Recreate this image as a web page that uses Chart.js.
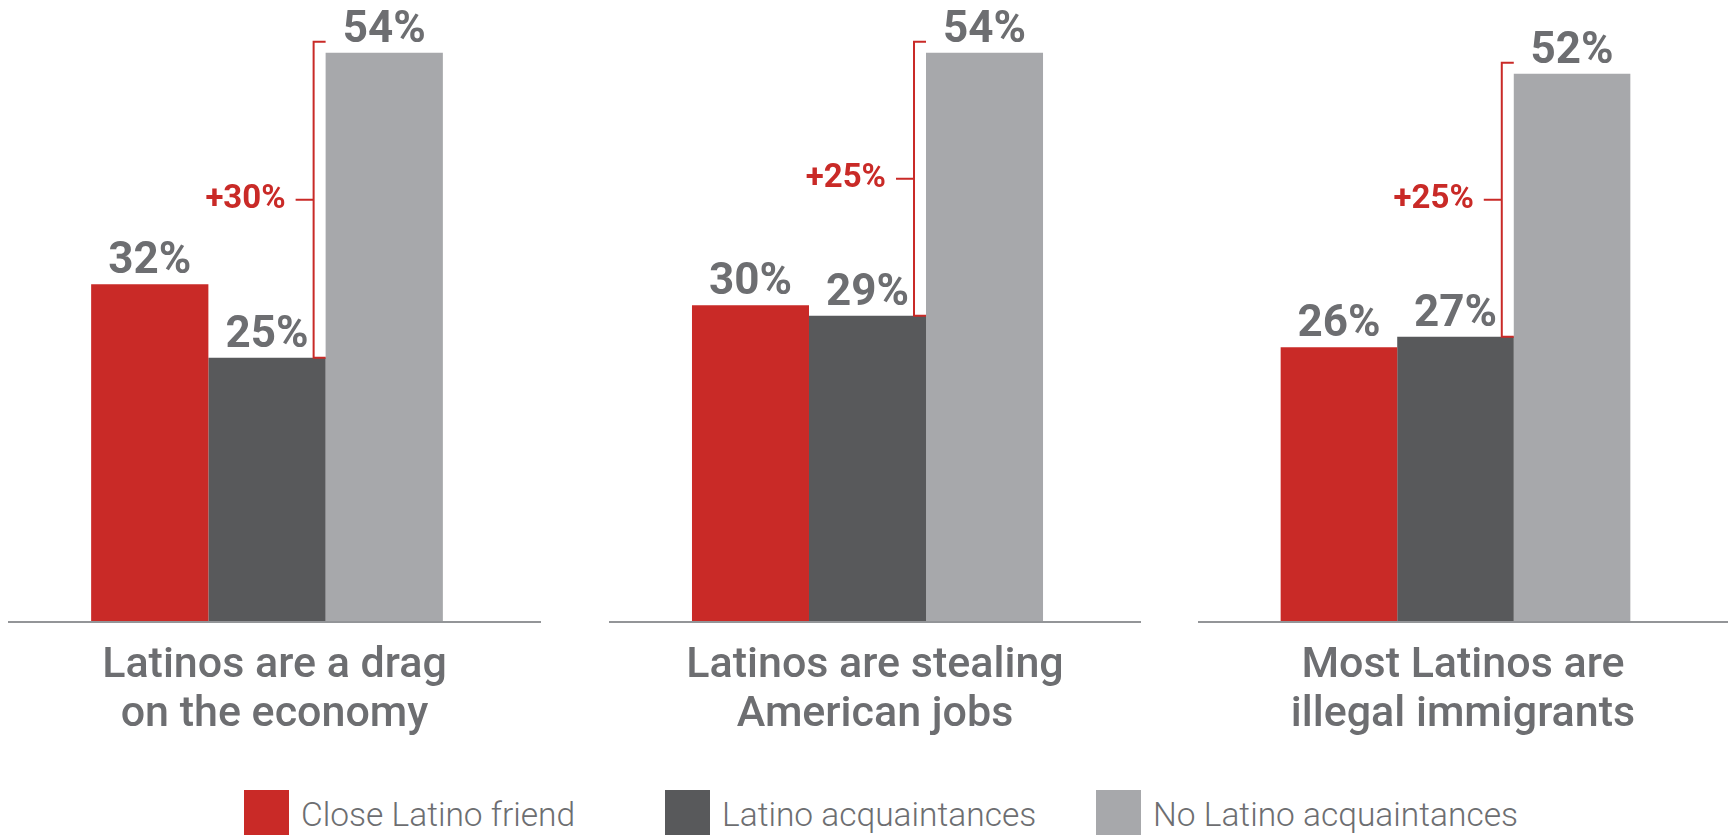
<!DOCTYPE html>
<html>
<head>
<meta charset="utf-8">
<script src="https://cdn.jsdelivr.net/npm/chart.js@4.4.1/dist/chart.umd.min.js"></script>
<style>
  html, body { margin: 0; padding: 0; background: #fff; }
  body { width: 1728px; height: 836px; position: relative; overflow: hidden; font-family: Roboto, sans-serif; }
  .panel { position: absolute; top: 0; height: 740px; }
  #legend { position: absolute; top: 790px; left: 244px; display: grid; grid-template-columns: 421px 431px auto; }
  .item { display: flex; align-items: center; height: 45px; }
  .swatch { width: 45px; height: 45px; margin-right: 12px; flex: none; }
  .item span { font: 300 33.5px Roboto; color: #6d6e71; white-space: nowrap; position: relative; top: 2px; }
</style>
</head>
<body>
<div class="panel" style="left:8px;width:533px"><canvas id="c0"></canvas></div>
<div class="panel" style="left:609px;width:532px"><canvas id="c1"></canvas></div>
<div class="panel" style="left:1198px;width:530px"><canvas id="c2"></canvas></div>
<div id="legend"></div>
<script>
// Chart data
const categories = [
    ['Latinos are a drag', 'on the economy'],
    ['Latinos are stealing', 'American jobs'],
    ['Most Latinos are', 'illegal immigrants']
];
const seriesNames = ['Close Latino friend', 'Latino acquaintances', 'No Latino acquaintances'];
const closeFriend = [32, 30, 26];
const acquaintances = [25, 29, 27];
const noAcquaintances = [54, 54, 52];
const gapLabels = ['+30%', '+25%', '+25%'];

// Styles
const RED = '#c92a27';
const DARK = '#58595b';
const LIGHT = '#a7a8ab';
const TEXT = '#6d6e71';
const AXIS = '#939598';
const seriesColors = [RED, DARK, LIGHT];
const seriesValues = [closeFriend, acquaintances, noAcquaintances];

// Baseline under each group, across the whole panel
const baseline = {
    id: 'baseline',
    afterDatasetsDraw(chart) {
        const ctx = chart.ctx;
        const y = chart.scales.y.getPixelForValue(0);
        ctx.save();
        ctx.fillStyle = AXIS;
        ctx.fillRect(0, y, chart.width, 2);
        ctx.restore();
    }
};

// Percent labels above bars
const valueLabels = {
    id: 'valueLabels',
    afterDatasetsDraw(chart) {
        const ctx = chart.ctx;
        ctx.save();
        ctx.font = 'bold 44px Roboto';
        ctx.fillStyle = TEXT;
        ctx.textAlign = 'center';
        ctx.textBaseline = 'alphabetic';
        chart.data.datasets.forEach((ds, i) => {
            const bar = chart.getDatasetMeta(i).data[0];
            ctx.fillText(ds.data[0] + '%', bar.x, bar.y - 11);
        });
        ctx.restore();
    }
};

// Red bracket showing the gap between acquaintances and no acquaintances
const gapBracket = {
    id: 'gapBracket',
    afterDatasetsDraw(chart, args, opts) {
        const ctx = chart.ctx;
        const dark = chart.getDatasetMeta(1).data[0];
        const light = chart.getDatasetMeta(2).data[0];
        const left = light.x - light.width / 2;
        const bx = left - 12;
        const top = light.y - 11;
        const bottom = dark.y;
        const mid = (top + bottom) / 2;
        ctx.save();
        ctx.strokeStyle = RED;
        ctx.lineWidth = 2;
        ctx.beginPath();
        ctx.moveTo(left, top);
        ctx.lineTo(bx, top);
        ctx.lineTo(bx, bottom);
        ctx.lineTo(left, bottom);
        ctx.moveTo(bx, mid);
        ctx.lineTo(bx - 18, mid);
        ctx.stroke();
        ctx.font = 'bold 33px Roboto';
        ctx.fillStyle = RED;
        ctx.textAlign = 'right';
        ctx.textBaseline = 'middle';
        ctx.fillText(opts.label, bx - 28, mid);
        ctx.restore();
    }
};

function makePanel(i) {
    new Chart(document.getElementById('c' + i), {
        type: 'bar',
        data: {
            labels: [categories[i]],
            datasets: seriesNames.map((name, s) => ({
                label: name,
                data: [seriesValues[s][i]],
                backgroundColor: seriesColors[s],
                borderWidth: 0,
                categoryPercentage: 0.679,
                barPercentage: 1
            }))
        },
        options: {
            responsive: true,
            maintainAspectRatio: false,
            animation: false,
            layout: { padding: { top: 0, right: 15, left: 0, bottom: 0 } },
            plugins: {
                legend: { display: false },
                tooltip: { enabled: false },
                gapBracket: { label: gapLabels[i] }
            },
            scales: {
                y: { display: false, min: 0, max: 59 },
                x: {
                    grid: { display: false, drawTicks: false },
                    border: { display: false },
                    ticks: {
                        color: TEXT,
                        font: { family: 'Roboto', size: 43, weight: '500', lineHeight: 1.14 },
                        padding: 21,
                        labelOffset: 7.5,
                        maxRotation: 0,
                        autoSkip: false
                    },
                    afterFit(scale) { scale.height = 119; }
                }
            }
        },
        plugins: [baseline, valueLabels, gapBracket]
    });
}

// Legend
function buildLegend() {
    const legend = document.getElementById('legend');
    seriesNames.forEach((name, s) => {
        const item = document.createElement('div');
        item.className = 'item';
        const sw = document.createElement('div');
        sw.className = 'swatch';
        sw.style.background = seriesColors[s];
        const label = document.createElement('span');
        label.textContent = name;
        item.appendChild(sw);
        item.appendChild(label);
        legend.appendChild(item);
    });
}

categories.forEach((_, i) => makePanel(i));
buildLegend();
</script>
</body>
</html>
